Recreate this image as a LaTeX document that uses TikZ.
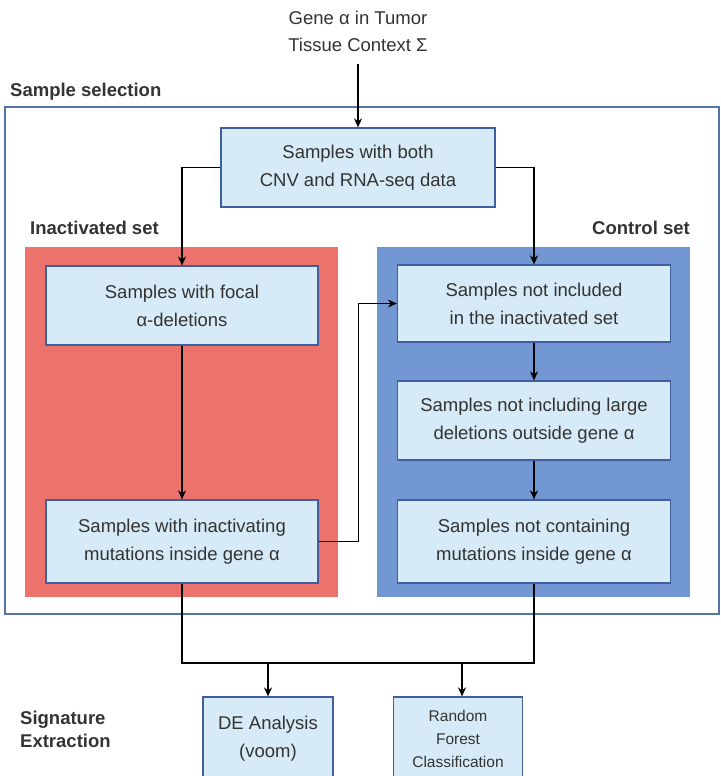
\documentclass[tikz,border=0pt]{standalone}
\usepackage{fontspec}
\setmainfont{Liberation Sans}
\usetikzlibrary{arrows.meta}
\definecolor{boxfill}{HTML}{D6EBF7}
\definecolor{boxline}{HTML}{3F5F9E}
\definecolor{outerline}{HTML}{5574AC}
\definecolor{redset}{HTML}{EB736B}
\definecolor{blueset}{HTML}{7297D2}
\definecolor{txt}{HTML}{333333}
\tikzset{
  stepbox/.style={draw=boxline, line width=1.2pt, fill=boxfill, text=txt, align=center,
    inner sep=0pt, font=\fontsize{18.5}{28}\selectfont},
  heading/.style={font=\bfseries\fontsize{18.5}{22}\selectfont, text=txt, inner sep=0pt},
  flow/.style={draw=black, line width=1.6pt, -{Stealth[length=9pt,width=8pt]}},
  link/.style={draw=black, line width=1.6pt}
}
\begin{document}
\begin{tikzpicture}[x=1pt,y=-1pt]
\useasboundingbox (0,0) rectangle (720,776);
\clip (0,0) rectangle (720,776);

% input
\node[text=txt, align=center, inner sep=0pt, font=\fontsize{18.5}{27}\selectfont] (title) at (358,31)
  {Gene α in Tumor\\Tissue Context Σ};
\coordinate (tin) at (358,64);

% sample selection frame
\node[heading, anchor=west] (selLabel) at (10,92) {Sample selection};
\draw[outerline, line width=1.2pt] (5,107) rectangle (719,614);

% the two sets
\fill[redset] (25,247) rectangle (338,597);
\fill[blueset] (377,247) rectangle (690,597);
\node[heading, anchor=west] (inLabel) at (30,228) {Inactivated set};
\node[heading, anchor=east] (ctLabel) at (690,228) {Control set};

% boxes
\node[stepbox, minimum width=274pt, minimum height=79pt] (top) at (358,167.5)
  {Samples with both\\CNV and RNA-seq data};
\node[stepbox, minimum width=272pt, minimum height=79pt] (L1) at (182,305.5)
  {Samples with focal\\α-deletions};
\node[stepbox, minimum width=272pt, minimum height=83pt] (L2) at (182,541.5)
  {Samples with inactivating\\mutations inside gene α};
\node[stepbox, minimum width=273pt, minimum height=77pt] (R1) at (534,303.5)
  {Samples not included\\in the inactivated set};
\node[stepbox, minimum width=273pt, minimum height=79pt] (R2) at (534,420.5)
  {Samples not including large\\deletions outside gene α};
\node[stepbox, minimum width=273pt, minimum height=83pt] (R3) at (534,541.5)
  {Samples not containing\\mutations inside gene α};

% signature extraction
\node[heading, anchor=west, align=left, font=\bfseries\fontsize{18.5}{23}\selectfont] (sigLabel) at (20,729)
  {Signature\\Extraction};
\node[stepbox, minimum width=130pt, minimum height=83pt] (DE) at (268,738.5)
  {DE Analysis\\(voom)};
\node[stepbox, minimum width=129pt, minimum height=83pt, font=\fontsize{15.5}{23}\selectfont] (RF) at (458,738.5)
  {Random\\Forest\\Classification};

% connectors
\draw[flow] (tin) -- (top.north);
\draw[flow] (top.west) -| (L1.north);
\draw[flow] (top.east) -| (R1.north);
\draw[flow] (L1.south) -- (L2.north);
\draw[flow] (L2.east) -- ++(40,0) |- (R1.west);
\draw[flow] (R1.south) -- (R2.north);
\draw[flow] (R2.south) -- (R3.north);

\coordinate (jL) at (182,663);
\coordinate (jR) at (534,663);
\coordinate (jDE) at (268,663);
\coordinate (jRF) at (462,663);
\draw[link] (L2.south) -- (jL) -- (jR) -- (R3.south);
\draw[flow] (jDE) -- (jDE |- DE.north);
\draw[flow] (jRF) -- (jRF |- RF.north);
\end{tikzpicture}
\end{document}
